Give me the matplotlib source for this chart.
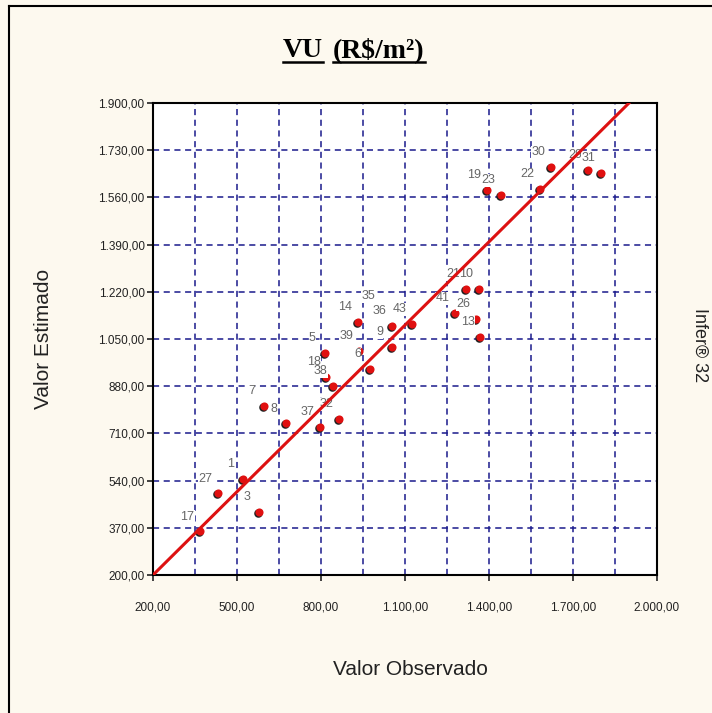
import matplotlib
matplotlib.use("Agg")
import matplotlib.pyplot as plt
from matplotlib.ticker import FixedLocator, FuncFormatter
from matplotlib.lines import Line2D
import matplotlib.transforms as mtransforms

labels = ["17", "27", "1", "3", "7", "8", "37", "32", "18", "38", "5", "39", "6",
          "14", "35", "36", "9", "43", "41", "21", "10", "26", "13", "19", "23",
          "22", "30", "29", "31"]
observado = [368, 432, 521, 579, 596, 675, 796, 864, 818, 843, 814, 936, 975,
             932, 1014, 1054, 1054, 1125, 1279, 1318, 1364, 1354, 1368, 1393, 1443,
             1582, 1621, 1754, 1800]
estimado = [358, 495, 546, 427, 809, 747, 733, 762, 913, 881, 1000, 1007, 942,
            1111, 1151, 1097, 1021, 1104, 1144, 1230, 1230, 1122, 1057, 1587, 1569,
            1590, 1670, 1659, 1648]

xticks = [200, 500, 800, 1100, 1400, 1700, 2000]
xgrid_minor = [350, 650, 950, 1250, 1550, 1850]
yticks = [200, 370, 540, 710, 880, 1050, 1220, 1390, 1560, 1730, 1900]

bg = "#fdf9ef"
grid_col = "#1a1a8c"


def br(v, pos=None):
    s = "{:,.2f}".format(v)
    return s.replace(",", "X").replace(".", ",").replace("X", ".")


plt.rcParams["font.family"] = ["Liberation Sans", "DejaVu Sans"]

fig = plt.figure(figsize=(7.12, 7.13), dpi=100, facecolor=bg)
ax = fig.add_axes([153 / 712, 138 / 713, 504 / 712, 472 / 713])
ax.set_facecolor("white")

ax.set_xlim(200, 2000)
ax.set_ylim(200, 1900)
ax.xaxis.set_major_locator(FixedLocator(xticks))
ax.xaxis.set_minor_locator(FixedLocator(xgrid_minor))
ax.yaxis.set_major_locator(FixedLocator(yticks))
ax.xaxis.set_major_formatter(FuncFormatter(br))
ax.yaxis.set_major_formatter(FuncFormatter(br))

ax.grid(True, which="both", axis="x", color=grid_col, linestyle=(0, (4, 3)), lw=1.1)
ax.grid(True, which="major", axis="y", color=grid_col, linestyle=(0, (4, 3)), lw=1.1)
ax.set_axisbelow(True)

ax.tick_params(axis="x", which="major", length=4, width=1.2, pad=15,
               labelsize=8.5, colors="#222222")
ax.tick_params(axis="x", which="minor", length=0)
ax.tick_params(axis="y", which="major", length=4, width=1.2, pad=2,
               labelsize=8.5, colors="#222222")
for sp in ax.spines.values():
    sp.set_linewidth(1.5)
    sp.set_color("black")

# shadow + red marker
shadow = mtransforms.offset_copy(ax.transData, fig=fig, x=-1.2, y=-1.2, units="dots")
ax.scatter(observado, estimado, s=38, color="#222222", transform=shadow, zorder=3,
           linewidths=0)
ax.scatter(observado, estimado, s=34, color="#e01010", zorder=3.5, linewidths=0)

for lab, xo, ye in zip(labels, observado, estimado):
    ax.annotate(lab, (xo, ye), xytext=(-9, 10.5), textcoords="offset points",
                ha="center", va="center", fontsize=9, color="#666666", zorder=4,
                bbox=dict(facecolor="white", edgecolor="none", pad=0.3))

ax.plot([200, 1900], [200, 1900], color="#dd1111", lw=2.2, zorder=5)

ax.set_xlabel("Valor Observado", fontsize=15, color="#222222")
ax.xaxis.set_label_coords(0.51, -0.18)
ax.set_ylabel("Valor Estimado", fontsize=15, color="#222222")
ax.yaxis.set_label_coords(-0.198, 0.5)

fig.text(700 / 712, 1 - 345 / 713, "Infer® 32", rotation=270, fontsize=13,
         ha="center", va="center", color="#222222")

# title with underlines under each word
t1 = fig.text(323 / 712, 1 - 57 / 713, "VU", ha="right", va="baseline",
              family="Liberation Serif", weight="bold", fontsize=20)
t2 = fig.text(333 / 712, 1 - 57 / 713, "(R$/m²)", ha="left", va="baseline",
              family="Liberation Serif", weight="bold", fontsize=20)
fig.canvas.draw()
r = fig.canvas.get_renderer()
inv = fig.transFigure.inverted()
for t in (t1, t2):
    bb = t.get_window_extent(r)
    (x0, _), (x1, _) = inv.transform([(bb.x0, 0), (bb.x1, 0)])
    yl = 1 - 62 / 713
    fig.add_artist(Line2D([x0, x1], [yl, yl], color="black", lw=1.8,
                          transform=fig.transFigure))

# outer frame (left and top)
fig.add_artist(Line2D([9 / 712, 9 / 712], [0, 1 - 6 / 713], color="black", lw=1.5,
                      transform=fig.transFigure))
fig.add_artist(Line2D([9 / 712, 1], [1 - 6 / 713, 1 - 6 / 713], color="black", lw=1.5,
                      transform=fig.transFigure))

fig.savefig("out.png", dpi=100, facecolor=bg)
